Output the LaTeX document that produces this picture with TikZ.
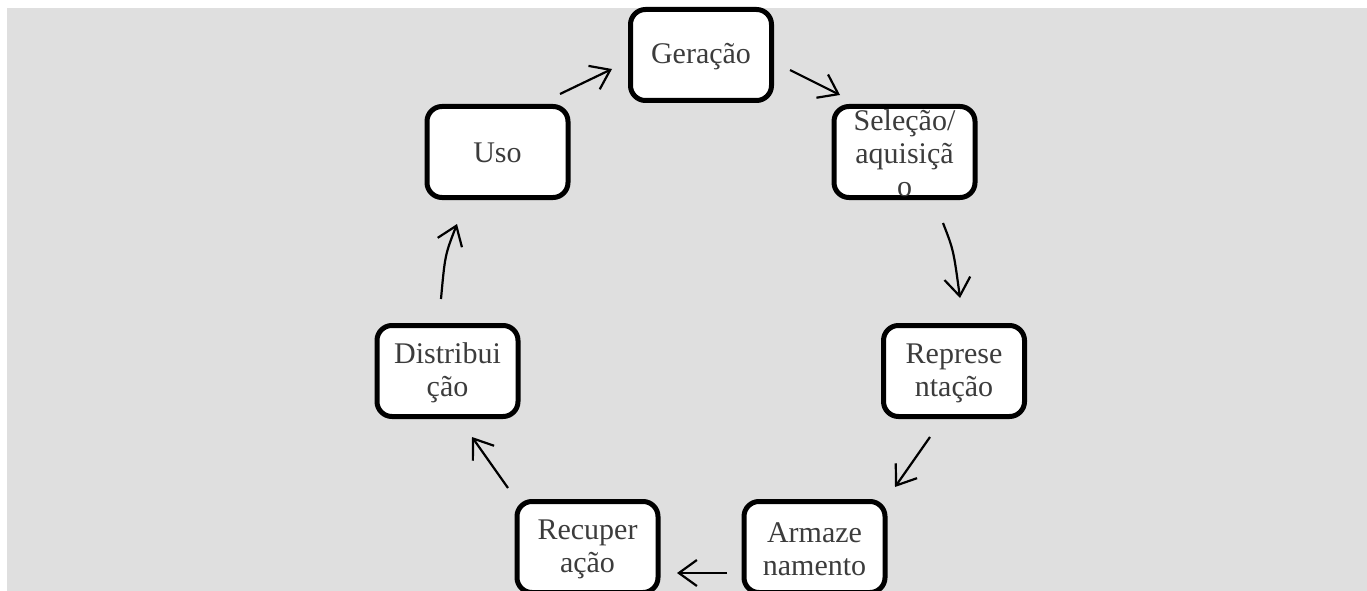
\documentclass[tikz,border=0pt]{standalone}
\usepackage{fontspec}
\setmainfont{Liberation Serif}
\usetikzlibrary{arrows.meta}
\definecolor{bg}{RGB}{223,223,223}
\definecolor{txt}{RGB}{60,60,60}
\tikzset{
  stagebox/.style={draw=black, line width=5pt, rounded corners=15pt, fill=white,
    minimum width=141pt, minimum height=91pt, inner sep=0pt},
  stagetext/.style={text=txt, align=center, inner sep=0pt,
    font=\fontsize{30}{33}\selectfont},
  flow/.style={draw=black, line width=2.2pt,
    -{Straight Barb[length=18pt, width=26pt, line width=2.2pt]}}
}
\begin{document}
\begin{tikzpicture}[x=1pt,y=-1pt]
\useasboundingbox (0,0) rectangle (1367,591);
\fill[white] (0,0) rectangle (1367,591);
\fill[bg] (7,8) rectangle (1367,591);

\node[stagebox] (ger) at (701,55) {};
\node[stagebox] (sel) at (904.5,152) {};
\node[stagebox] (rep) at (954,371) {};
\node[stagebox] (arm) at (814.5,547) {};
\node[stagebox] (rec) at (587.5,547) {};
\node[stagebox] (dis) at (447.5,371) {};
\node[stagebox] (uso) at (497.5,152) {};

\node[stagetext] (tger) at ([yshift=-2pt]ger.center) {Geração};
\node[stagetext] (tsel) at ([yshift=-1pt]sel.center) {Seleção/\\aquisiçã\\o};
\node[stagetext] (trep) at ([yshift=-2pt]rep.center) {Represe\\ntação};
\node[stagetext] (tarm) at ([yshift=-2pt]arm.center) {Armaze\\namento};
\node[stagetext] (trec) at ([yshift=-2pt]rec.center) {Recuper\\ação};
\node[stagetext] (tdis) at ([yshift=-2pt]dis.center) {Distribui\\ção};
\node[stagetext] (tuso) at ([yshift=-1pt]uso.center) {Uso};

\draw[flow] ([shift={(62.5,-58)}]uso.center) -- ([shift={(-89,14)}]ger.center);
\draw[flow] ([shift={(89,15)}]ger.center) -- ([shift={(-64.5,-57)}]sel.center);
\draw[flow] ([shift={(38.5,71)}]sel.center) .. controls ([shift={(49,98)}]sel.center) .. ([shift={(6,-73)}]rep.center);
\draw[flow] ([shift={(-24,66)}]rep.center) -- ([shift={(80.5,-60)}]arm.center);
\draw[flow] ([shift={(-87.5,26)}]arm.center) -- ([shift={(89.5,26)}]rec.center);
\draw[flow] ([shift={(-79.5,-59)}]rec.center) -- ([shift={(24.5,66)}]dis.center);
\draw[flow] ([shift={(-6.5,-72)}]dis.center) .. controls ([shift={(-2.5,-116)}]dis.center) .. ([shift={(-40.5,72)}]uso.center);
\end{tikzpicture}
\end{document}
